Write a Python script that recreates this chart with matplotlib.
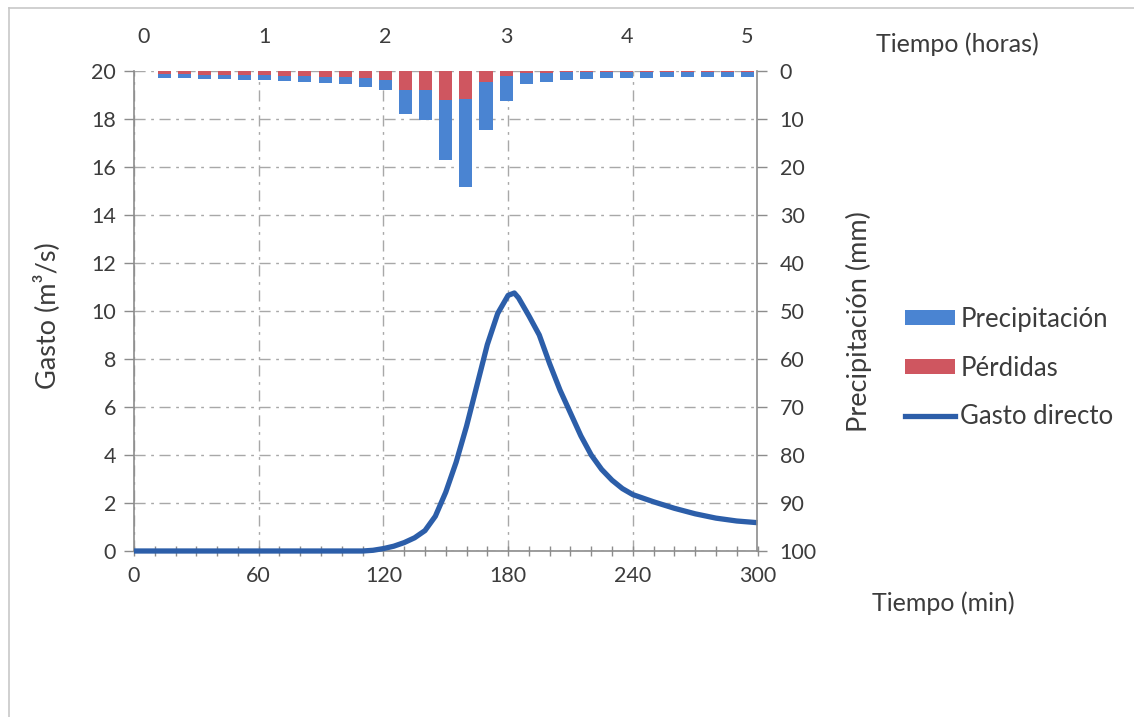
import matplotlib
matplotlib.use("Agg")
import matplotlib.pyplot as plt
from matplotlib.patches import Patch
from matplotlib.lines import Line2D
import numpy as np

plt.rcParams['font.family'] = ['Lato', 'DejaVu Sans']

# hydrograph (direct runoff), time in minutes
t_gasto = [0, 10, 20, 30, 40, 50, 60, 70, 80, 90, 100, 110, 115, 120, 125, 130,
           135, 140, 145, 150, 155, 160, 165, 170, 175, 180, 183, 185, 190, 195,
           200, 205, 210, 215, 220, 225, 230, 235, 240, 245, 250, 260, 270, 280,
           290, 300]
gasto = [0, 0, 0, 0, 0, 0, 0, 0, 0, 0, 0, 0, 0.03, 0.1, 0.2, 0.35,
         0.55, 0.85, 1.45, 2.45, 3.7, 5.2, 6.9, 8.6, 9.9, 10.65, 10.75, 10.55, 9.8, 9.0,
         7.8, 6.7, 5.75, 4.8, 4.0, 3.4, 2.95, 2.6, 2.35, 2.2, 2.05, 1.78, 1.55, 1.37,
         1.25, 1.18]

# hyetograph, one bar per 10 min (category 0 = 0 min ... 30 = 300 min)
precip = [0, 1.5, 1.5, 1.7, 1.7, 1.85, 1.9, 2.1, 2.2, 2.6, 2.8, 3.4, 3.9, 9.0, 10.2,
          18.6, 24.2, 12.2, 6.3, 2.8, 2.3, 1.9, 1.6, 1.5, 1.5, 1.45, 1.3, 1.2, 1.2,
          1.2, 1.2]
perdidas = [0, 0.7, 0.7, 0.8, 0.8, 0.9, 0.9, 1.0, 1.0, 1.2, 1.3, 1.5, 1.8, 4.0, 4.0,
            6.0, 5.9, 2.3, 1.0, 0.5, 0.35, 0.3, 0.25, 0.2, 0.2, 0.2, 0.2, 0.2, 0.2,
            0.2, 0.2]
horas = ["0", "1", "2", "3", "4", "5"]

c_prec = "#4a84d2"
c_perd = "#cf5660"
c_line = "#2c5ea9"
c_axis = "#8c8c8c"
c_text = "#3c3c3c"

fs_tick = 15.5
fs_lab = 18       # horizontal captions
fs_ylab = 19.5    # rotated axis titles (scan is a bit stretched vertically)
fs_leg = 18.5

fig = plt.figure(figsize=(11.34, 7.17), dpi=100)
fig.patch.set_facecolor("white")

W, H = 1134, 717
pos = [134 / W, 1 - 551 / H, (757.5 - 134) / W, (551 - 71) / H]

# main axes: discharge vs minutes
ax = fig.add_axes(pos)
ax.plot(t_gasto, gasto, color=c_line, lw=3.8, solid_joinstyle="round",
        solid_capstyle="butt", zorder=5, clip_on=False)
ax.set_xlim(0, 300)
ax.set_ylim(0, 20)
ax.set_xticks(np.arange(0, 301, 60))
ax.set_xticks(np.arange(0, 301, 10), minor=True)
ax.set_yticks(np.arange(0, 21, 2))
ax.grid(True, which="major", color="#a8a8a8", ls=(0, (8, 4, 2, 4)), lw=1.0)
ax.set_axisbelow(True)
for s in ["top", "right"]:
    ax.spines[s].set_visible(False)
for s in ["left", "bottom"]:
    ax.spines[s].set_color(c_axis)
    ax.spines[s].set_linewidth(1.2)
ax.tick_params(axis="x", which="both", direction="inout", length=7, color=c_axis,
               width=1.0, labelsize=fs_tick, labelcolor=c_text, pad=7)
ax.tick_params(axis="y", direction="out", length=7, color=c_axis, width=1.0,
               labelsize=fs_tick, labelcolor=c_text, pad=6)
ax.set_ylabel("Gasto (m³/s)", fontsize=fs_ylab, color=c_text)
ax.yaxis.set_label_coords(-0.119, 0.49)

# bar axes: precipitation (mm) vs hour categories
axb = fig.add_axes(pos)
axb.patch.set_alpha(0)
cats = np.arange(len(precip))
axb.bar(cats, precip, width=0.65, color=c_prec, zorder=3)
axb.bar(cats, perdidas, width=0.65, color=c_perd, zorder=4)
axb.set_xlim(-0.5, len(precip) - 0.5)
axb.set_ylim(100, 0)
axb.set_xticks(np.arange(0, len(precip), 6))
axb.set_xticklabels(horas)
axb.set_yticks(np.arange(0, 101, 10))
axb.xaxis.tick_top()
axb.yaxis.tick_right()
for s in ["top", "left", "bottom"]:
    axb.spines[s].set_visible(False)
axb.spines["right"].set_color(c_axis)
axb.spines["right"].set_linewidth(1.2)
axb.tick_params(axis="x", length=0, labelsize=fs_tick, labelcolor=c_text, pad=17)
axb.tick_params(axis="y", direction="out", length=7, color=c_axis, width=1.0,
                labelsize=fs_tick, labelcolor=c_text, pad=9)
axb.set_ylabel("Precipitación (mm)", fontsize=fs_ylab, color=c_text)
axb.yaxis.set_label_position("right")
axb.yaxis.set_label_coords(1.141, 0.479)

fig.text(876 / W, 1 - 44 / H, "Tiempo (horas)", fontsize=fs_lab, color=c_text,
         ha="left", va="center")
fig.text(872 / W, 1 - 603 / H, "Tiempo (min)", fontsize=fs_lab, color=c_text,
         ha="left", va="center")

handles = [Patch(facecolor=c_prec, edgecolor="none"),
           Patch(facecolor=c_perd, edgecolor="none"),
           Line2D([], [], color=c_line, lw=3.8)]
fig.legend(handles, ["Precipitación", "Pérdidas", "Gasto directo"],
           loc="center left", bbox_to_anchor=(882 / W, 1 - 368 / H),
           frameon=False, fontsize=fs_leg, labelcolor=c_text, handlelength=1.95,
           handleheight=0.5, handletextpad=0.2, labelspacing=0.92)

# thin page frame (top and left edges of the scanned box)
fig.add_artist(Line2D([9 / W, 9 / W], [0, 1 - 8 / H], color="#c8c8c8", lw=1.2))
fig.add_artist(Line2D([9 / W, 1], [1 - 8 / H, 1 - 8 / H], color="#c8c8c8", lw=1.2))

fig.savefig("out.png", dpi=100)
